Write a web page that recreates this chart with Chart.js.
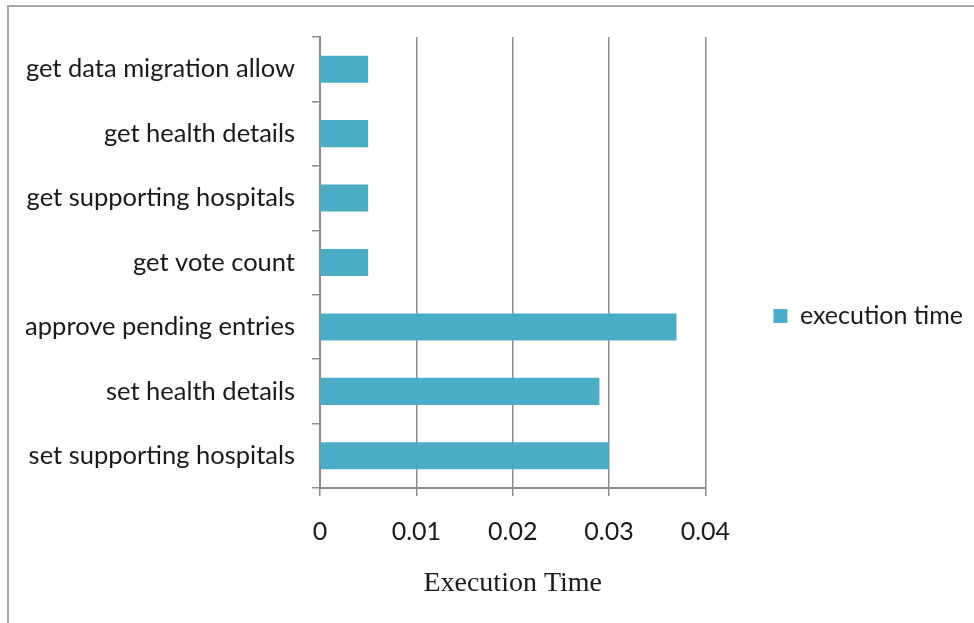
<!DOCTYPE html>
<html>
<head>
<meta charset="utf-8">
<script src="https://cdn.jsdelivr.net/npm/chart.js@4.4.1/dist/chart.umd.min.js"></script>
<style>
    html, body { margin: 0; padding: 0; background: #fff; }
    #wrap { position: relative; width: 974px; height: 623px; }
    #frame {
        position: absolute; left: 7px; top: 5px; right: 0; bottom: 0;
        border-left: 2px solid #a6a6a6; border-top: 2px solid #a6a6a6;
        pointer-events: none;
    }
    canvas { position: absolute; left: 0; top: 0; }
</style>
</head>
<body>
<div id="wrap">
    <canvas id="timeChart" width="974" height="623"></canvas>
    <div id="frame"></div>
</div>
<script>
// values
var functionNames = [
    'get data migration allow',
    'get health details',
    'get supporting hospitals',
    'get vote count',
    'approve pending entries',
    'set health details',
    'set supporting hospitals'
];
var executionTimes = [0.005, 0.005, 0.005, 0.005, 0.037, 0.029, 0.030];
var xTicks = [0, 0.01, 0.02, 0.03, 0.04];

document.addEventListener('DOMContentLoaded', function() {
    var ctx = document.getElementById('timeChart');
    var gridGray = '#8c8c8c';
    var chart = new Chart(ctx, {
        type: 'bar',
        data: {
            labels: functionNames,
            datasets: [
                {
                    label: 'execution time',
                    data: executionTimes,
                    backgroundColor: '#4BACC6',
                    borderColor: '#4BACC6',
                    borderWidth: 0,
                    categoryPercentage: 0.42,
                    barPercentage: 1
                }
            ]
        },
        options: {
            indexAxis: 'y',
            responsive: false,
            animation: false,
            layout: {
                padding: { top: 37, bottom: 28, left: 0, right: 1 }
            },
            plugins: {
                tooltip: { enabled: false },
                legend: {
                    position: 'right',
                    maxWidth: 400,
                    labels: {
                        color: '#1a1a1a',
                        boxWidth: 14,
                        boxHeight: 14,
                        padding: 68,
                        font: { family: 'Lato', size: 25 }
                    }
                }
            },
            scales: {
                x: {
                    min: xTicks[0],
                    max: xTicks[xTicks.length - 1],
                    afterBuildTicks: function(axis) {
                        axis.ticks = xTicks.map(function(v) { return { value: v }; });
                    },
                    afterFit: function(axis) { axis.height = 107; },
                    grid: { color: gridGray, lineWidth: 1.5, tickLength: 8 },
                    border: { color: gridGray, width: 2 },
                    ticks: {
                        color: '#1a1a1a',
                        padding: 21,
                        font: { family: 'Lato', size: 25 }
                    },
                    title: {
                        display: true,
                        text: 'Execution Time',
                        color: '#1a1a1a',
                        padding: { top: 0, bottom: -3 },
                        font: { family: 'Liberation Serif', size: 28, lineHeight: 1 }
                    }
                },
                y: {
                    afterFit: function(axis) { axis.width = 320; },
                    grid: {
                        color: gridGray,
                        lineWidth: 1.5,
                        drawOnChartArea: false,
                        tickLength: 8,
                        offset: true
                    },
                    border: { color: gridGray, width: 2 },
                    ticks: {
                        color: '#1a1a1a',
                        padding: 17,
                        font: { family: 'Lato', size: 25.5 }
                    }
                }
            }
        }
    });
});
</script>
</body>
</html>
